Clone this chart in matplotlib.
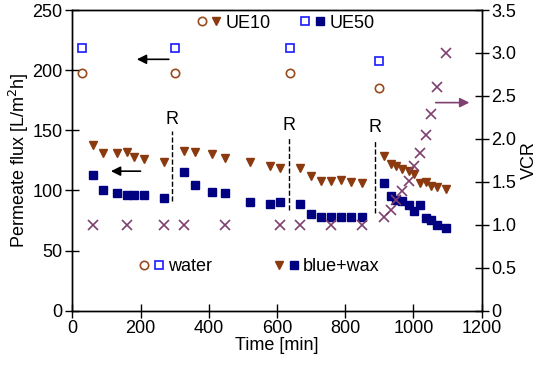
import matplotlib.pyplot as plt
from matplotlib.legend_handler import HandlerTuple
from matplotlib.lines import Line2D
from matplotlib.ticker import FuncFormatter

plt.rcParams['font.family'] = ['Liberation Sans', 'DejaVu Sans']

# water flux
t_water = [28, 300, 637, 898]
ue10_water = [198, 198, 198, 185]
ue50_water = [218, 218, 218, 208]

# blue+wax flux
t_ue10 = [60, 89, 130, 159, 180, 211, 269, 328, 359, 409, 449, 520, 579, 608, 666,
          699, 730, 759, 788, 818, 849, 915, 933, 949, 967, 988, 1003, 1018, 1037,
          1052, 1068, 1094]
ue10_flux = [138, 131, 131, 132, 128, 126, 124, 133, 132, 130, 127, 124, 120, 119, 119,
             112, 108, 108, 109, 107, 106, 129, 122, 120, 118, 116, 114, 106, 107,
             104, 103, 101]
t_ue50 = [60, 89, 130, 159, 180, 211, 269, 328, 359, 409, 449, 520, 579, 608, 666,
          699, 730, 759, 788, 818, 849, 913, 933, 949, 967, 986, 1003, 1020, 1037,
          1052, 1068, 1094]
ue50_flux = [113, 100, 98, 96, 96, 96.5, 94, 115, 104.5, 99, 98, 90, 89, 90, 89,
             80, 78, 78, 78, 78, 78, 106, 95, 92, 91, 88, 83, 88, 77,
             75, 71, 69]

# volume concentration ratio
t_vcr = [60, 159, 269, 328, 449, 608, 666, 759, 849, 913, 933, 949, 967, 986, 1003,
         1020, 1037, 1052, 1068, 1094]
vcr = [1.0, 1.0, 1.0, 1.0, 1.0, 1.0, 1.0, 1.0, 1.0, 1.09, 1.17, 1.29, 1.39, 1.51, 1.68,
       1.84, 2.04, 2.29, 2.6, 3.0]

# regeneration (R) marks
r_t = [291, 634, 888]
r_top = [149, 144, 142]
r_bot = [91, 84, 81]

brown = '#9a4a1e'
tri_col = '#8b3a0f'
blue = '#1a1aff'
navy = '#000080'
mauve = '#7f3f6f'
fs = 13

fig = plt.figure(figsize=(5.5, 3.65), dpi=100)
ax = fig.add_axes([0.1315, 0.1488, 0.7443, 0.8238])
ax2 = ax.twinx()

ax.plot(t_water, ue10_water, 'o', mfc='none', mec=brown, ms=6, mew=1.2)
ax.plot(t_water, ue50_water, 's', mfc='none', mec=blue, ms=5.5, mew=1.2)
ax.plot(t_ue10, ue10_flux, 'v', color=tri_col, ms=6)
ax.plot(t_ue50, ue50_flux, 's', color=navy, ms=5.5)
ax2.plot(t_vcr, vcr, 'x', color=mauve, ms=6.5, mew=1.2)

for x, y0, y1 in zip(r_t, r_bot, r_top):
    ax.plot([x, x], [y0, y1], '--', color='black', lw=1)
    ax.text(x, y1 + 3, 'R', ha='center', va='bottom', fontsize=fs)

arrow = dict(arrowstyle='-|>', color='black', lw=1.2, mutation_scale=14)
ax.annotate('', xy=(181, 209), xytext=(291, 209), arrowprops=arrow)
ax.annotate('', xy=(105, 116), xytext=(208, 116), arrowprops=arrow)
ax.annotate('', xy=(1172, 173), xytext=(1057, 173),
            arrowprops=dict(arrowstyle='-|>', color=mauve, lw=1.2, mutation_scale=14))

ax.set_xlim(0, 1200)
ax.set_ylim(0, 250)
ax2.set_ylim(0, 3.5)
ax.set_xticks(range(0, 1201, 200))
ax.set_yticks(range(0, 251, 50))
ax2.set_yticks([0, 0.5, 1, 1.5, 2, 2.5, 3, 3.5])
ax2.yaxis.set_major_formatter(FuncFormatter(lambda v, p: '0' if v == 0 else f'{v:.1f}'))

for a in (ax, ax2):
    a.tick_params(direction='inout', length=10, width=1, labelsize=fs, pad=2)
    for s in a.spines.values():
        s.set_linewidth(1)

ax.set_xlabel('Time [min]', fontsize=fs, labelpad=0)
ax.set_ylabel('Permeate flux [L/m$^2$h]', fontsize=fs, labelpad=1)
ax2.set_ylabel('VCR', fontsize=fs, labelpad=3)

h_o = Line2D([], [], ls='none', marker='o', mfc='none', mec=brown, ms=6, mew=1.2)
h_os = Line2D([], [], ls='none', marker='s', mfc='none', mec=blue, ms=5.5, mew=1.2)
h_v = Line2D([], [], ls='none', marker='v', color=tri_col, ms=6)
h_s = Line2D([], [], ls='none', marker='s', color=navy, ms=5.5)

kw = dict(frameon=False, ncol=2, fontsize=fs, handlelength=1.45, handletextpad=0.2,
          borderaxespad=0, borderpad=0, loc='center left',
          handler_map={tuple: HandlerTuple(ndivide=None, pad=0.2)})
leg1 = ax.legend([(h_o, h_v), (h_os, h_s)], ['UE10', 'UE50'],
                 bbox_to_anchor=(0.302, 0.956), columnspacing=1.6, **kw)
ax.add_artist(leg1)
ax.legend([(h_o, h_os), (h_v, h_s)], ['water', 'blue+wax'],
          bbox_to_anchor=(0.161, 0.146), columnspacing=3.4, **kw)

fig.savefig('out.png', dpi=100)
